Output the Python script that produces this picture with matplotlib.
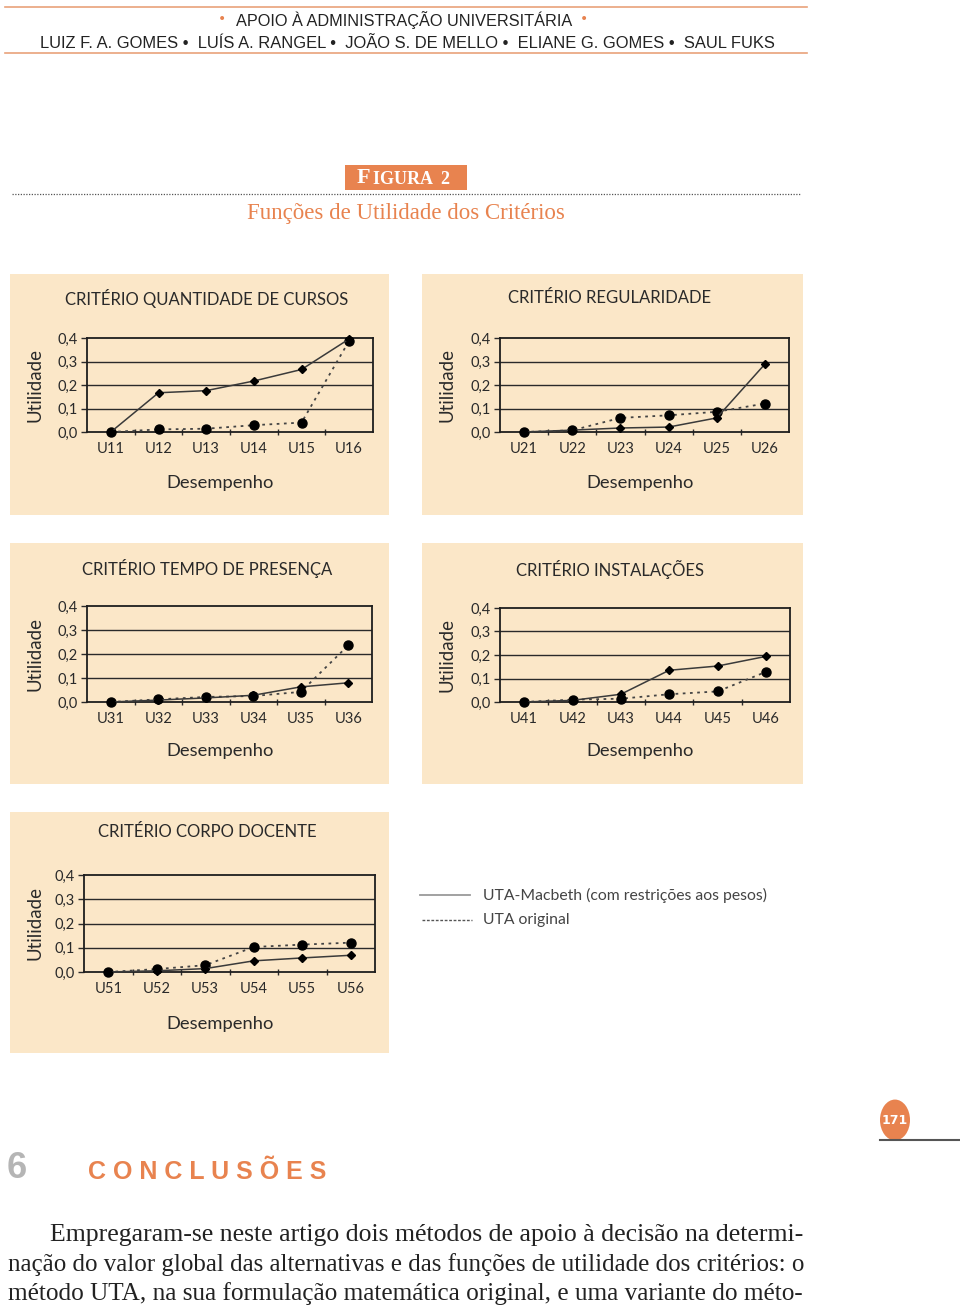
import matplotlib.pyplot as plt
from matplotlib.patches import Rectangle, Circle
from matplotlib.lines import Line2D

# dados (utilidade por nível de desempenho)
titulos = ['CRITÉRIO QUANTIDADE DE CURSOS', 'CRITÉRIO REGULARIDADE',
           'CRITÉRIO TEMPO DE PRESENÇA', 'CRITÉRIO INSTALAÇÕES',
           'CRITÉRIO CORPO DOCENTE']

cat1 = ['U11', 'U12', 'U13', 'U14', 'U15', 'U16']
cat2 = ['U21', 'U22', 'U23', 'U24', 'U25', 'U26']
cat3 = ['U31', 'U32', 'U33', 'U34', 'U35', 'U36']
cat4 = ['U41', 'U42', 'U43', 'U44', 'U45', 'U46']
cat5 = ['U51', 'U52', 'U53', 'U54', 'U55', 'U56']

# UTA-Macbeth (com restrições aos pesos) - linha cheia
macbeth1 = [0.0, 0.167, 0.176, 0.217, 0.266, 0.396]
macbeth2 = [0.0, 0.008, 0.017, 0.021, 0.060, 0.289]
macbeth3 = [0.0, 0.008, 0.017, 0.028, 0.063, 0.080]
macbeth4 = [0.0, 0.007, 0.033, 0.135, 0.153, 0.194]
macbeth5 = [0.0, 0.005, 0.014, 0.046, 0.058, 0.069]

# UTA original - linha pontilhada
original1 = [0.0, 0.011, 0.014, 0.029, 0.040, 0.388]
original2 = [0.0, 0.007, 0.060, 0.071, 0.086, 0.121]
original3 = [0.0, 0.011, 0.021, 0.025, 0.042, 0.236]
original4 = [0.0, 0.010, 0.014, 0.033, 0.045, 0.128]
original5 = [0.0, 0.012, 0.028, 0.103, 0.113, 0.121]

yticks = [0.0, 0.1, 0.2, 0.3, 0.4]
ylabels = ['0,0', '0,1', '0,2', '0,3', '0,4']

W, H = 960, 1308
LARANJA = '#e8834f'
BEGE = '#fbe7c8'
CINZA = '#2a2a2a'
SANS = 'Lato'

fig = plt.figure(figsize=(W / 100, H / 100), dpi=100)
fig.patch.set_facecolor('white')


def px(x, y):
    return x / W, 1 - y / H


def texto(x, y, s, **kw):
    fig.text(x / W, 1 - y / H, s, **kw)


def linha(x0, x1, y, **kw):
    fig.add_artist(Line2D([x0 / W, x1 / W], [1 - y / H, 1 - y / H],
                          transform=fig.transFigure, **kw))


# cabeçalho
linha(5, 807, 7, color='#e9a27a', lw=1.2)
linha(5, 807, 53, color='#e9a27a', lw=1.2)
texto(404, 20, 'APOIO À ADMINISTRAÇÃO UNIVERSITÁRIA', ha='center', va='center',
      fontsize=11.7, family='Liberation Sans', color='#222222')
texto(222, 19, '•', ha='center', va='center', fontsize=10, color=LARANJA)
texto(584, 19, '•', ha='center', va='center', fontsize=10, color=LARANJA)
texto(407, 43, 'LUIZ F. A. GOMES •  LUÍS A. RANGEL •  JOÃO S. DE MELLO •  '
      'ELIANE G. GOMES •  SAUL FUKS', ha='center', va='center',
      fontsize=11.85, family='Liberation Sans', color='#222222')

# título da figura
fig.add_artist(Rectangle(px(345, 190), 122 / W, 25 / H, transform=fig.transFigure,
                         facecolor=LARANJA, edgecolor='none'))
texto(357, 178, 'F', ha='left', va='center', fontsize=16, weight='bold',
      family='Liberation Serif', color='white')
texto(373, 179, 'IGURA  2', ha='left', va='center', fontsize=13, weight='bold',
      family='Liberation Serif', color='white')
linha(12, 800, 194, color='#555555', lw=0.9, linestyle=(0, (1, 1.2)))
texto(406, 214, 'Funções de Utilidade dos Critérios', ha='center', va='center',
      fontsize=16.5, family='Liberation Serif', color=LARANJA)

paineis = [
    ((10, 274, 389, 515), (87, 338, 373, 432), (207, 298), (220, 483), cat1, macbeth1, original1),
    ((422, 274, 803, 515), (500, 338, 789, 432), (610, 298), (640, 483), cat2, macbeth2, original2),
    ((10, 543, 389, 784), (87, 606, 372, 702), (207, 569), (220, 751), cat3, macbeth3, original3),
    ((422, 543, 803, 784), (500, 608, 790, 702), (610, 569), (640, 751), cat4, macbeth4, original4),
    ((10, 812, 389, 1053), (84, 875, 375, 972), (207, 832), (220, 1024), cat5, macbeth5, original5),
]

for titulo, (fundo, caixa, pt, pd, cats, mac, orig) in zip(titulos, paineis):
    fx0, fy0, fx1, fy1 = fundo
    fig.add_artist(Rectangle(px(fx0, fy1), (fx1 - fx0) / W, (fy1 - fy0) / H,
                             transform=fig.transFigure, facecolor=BEGE,
                             edgecolor='none', zorder=0))
    x0, y0, x1, y1 = caixa
    ax = fig.add_axes([x0 / W, 1 - y1 / H, (x1 - x0) / W, (y1 - y0) / H])
    ax.set_facecolor(BEGE)
    xs = range(len(cats))
    ax.plot(xs, orig, color='#444444', lw=1.3, linestyle=(0, (1.5, 2.5)),
            marker='o', ms=6.5, mfc='black', mec='black', clip_on=False, zorder=3)
    ax.plot(xs, mac, color='#3a3a3a', lw=1.1, marker='D', ms=4.5,
            mfc='black', mec='black', clip_on=False, zorder=4)
    ax.set_xlim(-0.5, len(cats) - 0.5)
    ax.set_ylim(0, 0.4)
    ax.set_yticks(yticks)
    ax.set_yticklabels(ylabels)
    ax.set_xticks(list(xs))
    ax.set_xticklabels(cats)
    ax.set_xticks([i + 0.5 for i in range(len(cats) - 1)], minor=True)
    for y in yticks[1:-1]:
        ax.axhline(y, color=CINZA, lw=1.0, zorder=1)
    for s in ax.spines.values():
        s.set_color('#1e1e1e')
        s.set_linewidth(1.3)
    ax.tick_params(axis='y', length=4, width=1, color=CINZA, pad=3,
                   labelsize=10.5, labelcolor=CINZA)
    ax.tick_params(axis='x', which='major', length=0, pad=7,
                   labelsize=10.5, labelcolor=CINZA)
    ax.tick_params(axis='x', which='minor', length=4, width=1, color=CINZA,
                   direction='inout')
    for lab in ax.get_xticklabels() + ax.get_yticklabels():
        lab.set_family(SANS)
    texto(pt[0], pt[1], titulo, ha='center', va='center', fontsize=12,
          family=SANS, color=CINZA)
    texto(fx0 + 25, (y0 + y1) / 2, 'Utilidade', ha='center', va='center',
          rotation=90, fontsize=13.5, family=SANS, color=CINZA)
    texto(pd[0], pd[1], 'Desempenho', ha='center', va='center',
          fontsize=13.2, family=SANS, color=CINZA)

# legenda
linha(420, 470, 895, color='#9a9a9a', lw=1.3)
linha(422, 472, 920, color='#555555', lw=1.0, linestyle=(0, (2, 1.2)))
texto(483, 895, 'UTA-Macbeth (com restrições aos pesos)', ha='left', va='center',
      fontsize=11.3, family=SANS, color='#444444')
texto(483, 920, 'UTA original', ha='left', va='center',
      fontsize=11.3, family=SANS, color='#444444')

# número da página
fig.add_artist(Circle(px(895, 1120), 15 / W, transform=fig.transFigure,
                      facecolor=LARANJA, edgecolor='none'))
texto(895, 1121, '171', ha='center', va='center', fontsize=9,
      family='Liberation Sans Narrow', weight='bold', color='white')
linha(880, 960, 1140, color='#555555', lw=1.5)

# seção
texto(7, 1168, '6', ha='left', va='center', fontsize=26, weight='bold',
      family='Liberation Sans', color='#b5b5b5')
texto(88, 1172, 'C O N C L U S Õ E S', ha='left', va='center', fontsize=18,
      weight='bold', family='Liberation Sans', color=LARANJA)

corpo = ['Empregaram-se neste artigo dois métodos de apoio à decisão na determi-',
         'nação do valor global das alternativas e das funções de utilidade dos critérios: o',
         'método UTA, na sua formulação matemática original, e uma variante do méto-']
texto(50, 1235, corpo[0], ha='left', va='center', fontsize=18.5,
      family='Liberation Serif', color='#222222')
texto(8, 1265, corpo[1], ha='left', va='center', fontsize=18,
      family='Liberation Serif', color='#222222')
texto(8, 1294, corpo[2], ha='left', va='center', fontsize=18.2,
      family='Liberation Serif', color='#222222')

fig.savefig('out.png', dpi=100)
